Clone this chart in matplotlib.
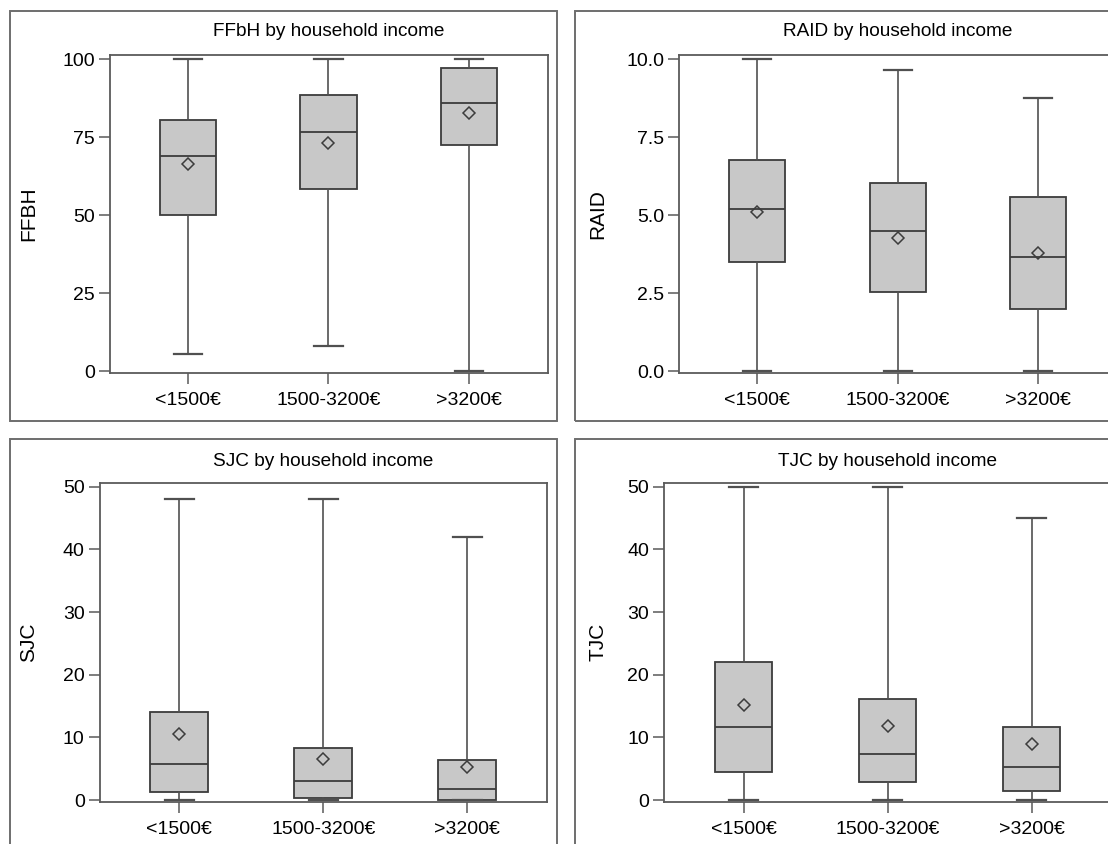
import matplotlib
matplotlib.use("Agg")
import matplotlib.pyplot as plt
from matplotlib.patches import Rectangle

plt.rcParams['font.family'] = ['Liberation Sans', 'DejaVu Sans']

categories = ["<1500€", "1500-3200€", ">3200€"]

# FFbH
ffbh_low = [5.3, 8.1, 0.0]
ffbh_q1 = [50.0, 58.4, 72.5]
ffbh_med = [69.0, 76.5, 85.9]
ffbh_q3 = [80.5, 88.5, 97.0]
ffbh_high = [100.0, 100.0, 100.0]
ffbh_mean = [66.4, 73.0, 82.6]

# RAID
raid_low = [0.0, 0.0, 0.0]
raid_q1 = [3.50, 2.54, 1.99]
raid_med = [5.20, 4.50, 3.67]
raid_q3 = [6.78, 6.02, 5.58]
raid_high = [10.0, 9.64, 8.75]
raid_mean = [5.11, 4.26, 3.77]

# SJC
sjc_low = [0.0, 0.0, 0.0]
sjc_q1 = [1.2, 0.4, 0.0]
sjc_med = [5.8, 3.0, 1.8]
sjc_q3 = [14.0, 8.3, 6.45]
sjc_high = [48.0, 48.0, 42.0]
sjc_mean = [10.5, 6.6, 5.2]

# TJC
tjc_low = [0.0, 0.0, 0.0]
tjc_q1 = [4.4, 2.9, 1.5]
tjc_med = [11.7, 7.4, 5.2]
tjc_q3 = [22.0, 16.1, 11.7]
tjc_high = [50.0, 50.0, 45.0]
tjc_mean = [15.1, 11.8, 8.9]

titles = ["FFbH by household income", "RAID by household income",
          "SJC by household income", "TJC by household income"]
ylabels = ["FFBH", "RAID", "SJC", "TJC"]
yticks_list = [[0, 25, 50, 75, 100], [0.0, 2.5, 5.0, 7.5, 10.0],
               [0, 10, 20, 30, 40, 50], [0, 10, 20, 30, 40, 50]]
ytick_labels = [["0", "25", "50", "75", "100"],
                ["0.0", "2.5", "5.0", "7.5", "10.0"],
                ["0", "10", "20", "30", "40", "50"],
                ["0", "10", "20", "30", "40", "50"]]

W, H = 1108, 844
fig = plt.figure(figsize=(W / 100, H / 100), dpi=100)
fig.patch.set_facecolor("white")


def fx(px):
    return px / W


def fy(py):
    return 1 - py / H


# axes rectangles in pixels: left, top, right, bottom
axes_px = [(110, 54.7, 547.7, 373.0),
           (679.3, 54.7, 1117.0, 373.0),
           (100, 482.7, 546.5, 801.7),
           (664.3, 482.7, 1110.7, 801.7)]
ylims = [(-0.64, 101.4), (-0.064, 10.14), (-0.27, 50.64), (-0.27, 50.64)]
borders_px = [(10, 11, 556.7, 421), (574.7, 11, 1125, 421),
              (10, 439.3, 556.7, 860), (574.7, 439.3, 1125, 860)]
ylabel_x = [29, 598, 29, 598]
title_y = [31, 31, 461, 461]

data = [
    (ffbh_low, ffbh_q1, ffbh_med, ffbh_q3, ffbh_high, ffbh_mean),
    (raid_low, raid_q1, raid_med, raid_q3, raid_high, raid_mean),
    (sjc_low, sjc_q1, sjc_med, sjc_q3, sjc_high, sjc_mean),
    (tjc_low, tjc_q1, tjc_med, tjc_q3, tjc_high, tjc_mean),
]

edge = "#3c3c3c"
line_c = "#505050"
spine_c = "#5a5a5a"
border_c = "#6e6e6e"

for i in range(4):
    # panel border
    bl, bt, br, bb = borders_px[i]
    fig.patches.append(Rectangle((fx(bl), fy(bb)), fx(br) - fx(bl), fy(bt) - fy(bb),
                                 transform=fig.transFigure, fill=False,
                                 edgecolor=border_c, linewidth=1.4, zorder=0))
    l, t, r, b = axes_px[i]
    ax = fig.add_axes([fx(l), fy(b), fx(r) - fx(l), fy(t) - fy(b)])
    low, q1, med, q3, high, mean = data[i]
    stats = []
    for j in range(3):
        stats.append(dict(whislo=low[j], q1=q1[j], med=med[j], q3=q3[j],
                          whishi=high[j], mean=mean[j], fliers=[], label=categories[j]))
    ax.bxp(stats, positions=[1, 2, 3], widths=0.4, capwidths=0.2,
           showmeans=True, patch_artist=True, showfliers=False,
           boxprops=dict(facecolor="#c8c8c8", edgecolor=edge, linewidth=1.3),
           medianprops=dict(color=edge, linewidth=1.3),
           whiskerprops=dict(color=line_c, linewidth=1.2),
           capprops=dict(color=line_c, linewidth=1.6),
           meanprops=dict(marker="D", markersize=6, markerfacecolor="none",
                          markeredgecolor=edge, markeredgewidth=1.1))
    if i < 2:
        ax.set_xlim(0.445, 3.56)
    else:
        ax.set_xlim(0.45, 3.55)
    ax.set_ylim(*ylims[i])
    ax.set_yticks(yticks_list[i])
    ax.set_yticklabels(ytick_labels[i])
    ax.set_xticks([1, 2, 3])
    ax.set_xticklabels(categories)
    for s in ax.spines.values():
        s.set_color(spine_c)
        s.set_linewidth(1.3)
    ax.tick_params(axis="both", colors=spine_c, labelcolor="black",
                   length=8, width=1.1, labelsize=14)
    ax.tick_params(axis="x", pad=6)
    ax.tick_params(axis="y", pad=3)
    fig.text(fx((l + r) / 2), fy(title_y[i]), titles[i],
             ha="center", va="center", fontsize=13.7)
    fig.text(fx(ylabel_x[i]), fy((t + b) / 2), ylabels[i], rotation=90,
             ha="center", va="center", fontsize=15)

fig.savefig("out.png", dpi=100)
